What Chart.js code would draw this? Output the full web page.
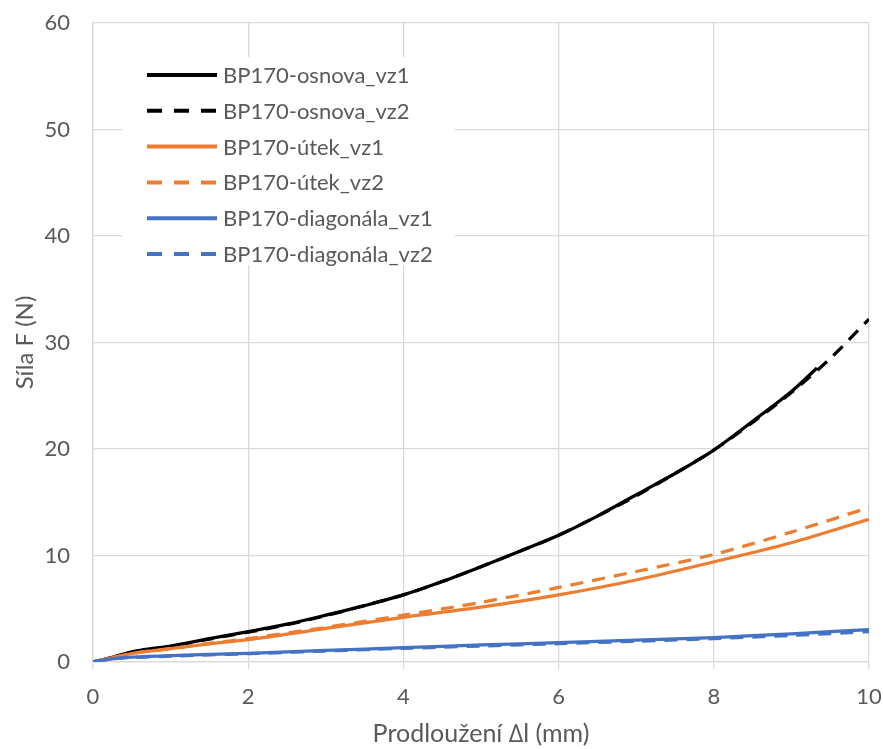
<!DOCTYPE html>
<html>
<head>
<meta charset="utf-8">
<script src="https://cdn.jsdelivr.net/npm/chart.js@4.4.0/dist/chart.umd.min.js"></script>
<style>
  html, body { margin: 0; padding: 0; background: #fff; }
  #wrap { width: 883px; height: 749px; }
</style>
</head>
<body>
<div id="wrap"><canvas id="chart"></canvas></div>
<script>
/* ---- data ---- */
const seriesNames = [
  "BP170-osnova_vz1", "BP170-osnova_vz2",
  "BP170-útek_vz1", "BP170-útek_vz2",
  "BP170-diagonála_vz1", "BP170-diagonála_vz2"
];

const osnova1X = [0, 0.25, 0.5, 0.8, 1, 1.5, 2, 2.5, 3, 3.5, 4, 4.5, 5, 5.5, 6, 6.5, 7, 7.5, 8, 8.5, 9, 9.33];
const osnova1Y = [0, 0.45, 0.95, 1.3, 1.5, 2.2, 2.85, 3.55, 4.4, 5.3, 6.3, 7.55, 8.95, 10.4, 11.9, 13.7, 15.7, 17.7, 19.9, 22.6, 25.4, 27.6];
const osnova2X = [0, 0.25, 0.5, 0.8, 1, 1.5, 2, 2.5, 3, 3.5, 4, 4.5, 5, 5.5, 6, 6.5, 7, 7.5, 8, 8.5, 9, 9.5, 10];
const osnova2Y = [0, 0.4, 0.9, 1.25, 1.45, 2.15, 2.8, 3.5, 4.35, 5.3, 6.3, 7.55, 8.95, 10.4, 11.9, 13.7, 15.6, 17.7, 19.9, 22.5, 25.3, 28.5, 32.2];
const utek1X = [0, 0.5, 1, 1.5, 2, 3, 4, 5, 6, 7, 8, 9, 10];
const utek1Y = [0, 0.8, 1.25, 1.7, 2.1, 3.15, 4.2, 5.15, 6.3, 7.7, 9.4, 11.2, 13.4];
const utek2X = [0, 0.5, 1, 1.5, 2, 3, 4, 5, 6, 7, 8, 9, 10];
const utek2Y = [0, 0.8, 1.25, 1.75, 2.2, 3.25, 4.4, 5.6, 7.0, 8.5, 10.1, 12.2, 14.5];
const diag1X = [0, 0.25, 0.5, 1, 2, 3, 4, 5, 6, 7, 8, 9, 10];
const diag1Y = [0, 0.3, 0.45, 0.6, 0.82, 1.08, 1.35, 1.6, 1.82, 2.05, 2.3, 2.65, 3.05];
const diag2X = [0, 0.25, 0.5, 1, 2, 3, 4, 5, 6, 7, 8, 9, 10];
const diag2Y = [0, 0.3, 0.42, 0.55, 0.78, 1.03, 1.28, 1.5, 1.72, 1.95, 2.2, 2.5, 2.85];

const xTicks = [0, 2, 4, 6, 8, 10];
const yTicks = [0, 10, 20, 30, 40, 50, 60];

/* ---- helpers ---- */
const FONT = "Lato, 'Open Sans', sans-serif";
const TEXT = "#595959";
const GRID = "#d9d9d9";

function pts(xs, ys) {
  return xs.map((x, i) => ({ x, y: ys[i] }));
}

const seriesData = [
  pts(osnova1X, osnova1Y), pts(osnova2X, osnova2Y),
  pts(utek1X, utek1Y), pts(utek2X, utek2Y),
  pts(diag1X, diag1Y), pts(diag2X, diag2Y)
];
const seriesColors = ["#000000", "#000000", "#ED7D31", "#ED7D31", "#4472C4", "#4472C4"];
const seriesDashed = [false, true, false, true, false, true];

// legend drawn inside the plot, like the Excel original
const insideLegend = {
  id: "insideLegend",
  afterDraw(chart) {
    const ctx = chart.ctx;
    ctx.save();
    ctx.fillStyle = "#fff";
    ctx.fillRect(122, 57, 333, 208);
    ctx.font = "22px " + FONT;
    ctx.textBaseline = "middle";
    ctx.textAlign = "left";
    chart.data.datasets.forEach((ds, i) => {
      const y = 75 + i * 35.8;
      ctx.beginPath();
      ctx.strokeStyle = ds.borderColor;
      ctx.lineWidth = 4;
      ctx.setLineDash(seriesDashed[i] ? [15, 12] : []);
      ctx.moveTo(147, y);
      ctx.lineTo(217, y);
      ctx.stroke();
      ctx.setLineDash([]);
      ctx.fillStyle = TEXT;
      ctx.fillText(ds.label, 223, y + 1);
    });
    ctx.restore();
  }
};

const ctx = document.getElementById("chart").getContext("2d");
new Chart(ctx, {
  type: "line",
  data: {
    datasets: seriesNames.map((name, i) => ({
      label: name,
      data: seriesData[i],
      borderColor: seriesColors[i],
      backgroundColor: seriesColors[i],
      borderWidth: 3.25,
      borderDash: seriesDashed[i] ? [13, 9] : [],
      pointRadius: 0,
      tension: 0.3,
      fill: false,
      order: seriesNames.length - i
    }))
  },
  options: {
    responsive: true,
    maintainAspectRatio: false,
    animation: false,
    layout: { padding: { top: 23, right: 14, left: 0, bottom: 0 } },
    plugins: {
      legend: { display: false },
      tooltip: { enabled: false }
    },
    scales: {
      x: {
        type: "linear",
        min: 0,
        max: 10,
        afterBuildTicks(scale) { scale.ticks = xTicks.map(v => ({ value: v })); },
        afterFit(scale) {
          scale.height = 87;
          scale.paddingLeft = 0;
          scale.paddingRight = 0;
        },
        ticks: { color: TEXT, font: { family: FONT, size: 22 }, padding: 15 },
        grid: { color: GRID, lineWidth: 1.3, tickLength: 7 },
        border: { color: GRID, width: 1.3 },
        title: {
          display: true,
          text: "Prodloužení ∆l (mm)",
          color: TEXT,
          font: { family: FONT, size: 25 },
          padding: { top: 0, bottom: 0 }
        }
      },
      y: {
        type: "linear",
        min: 0,
        max: 60,
        afterBuildTicks(scale) { scale.ticks = yTicks.map(v => ({ value: v })); },
        afterFit(scale) {
          scale.width = 93;
          scale.paddingTop = 0;
          scale.paddingBottom = 0;
        },
        ticks: { color: TEXT, font: { family: FONT, size: 22 }, padding: 23 },
        grid: { color: GRID, lineWidth: 1.3, drawTicks: false },
        border: { color: GRID, width: 1.3 },
        title: {
          display: true,
          text: "Síla F (N)",
          color: TEXT,
          font: { family: FONT, size: 24 },
          padding: { top: 11, bottom: 0 }
        }
      }
    }
  },
  plugins: [insideLegend]
});
</script>
</body>
</html>
